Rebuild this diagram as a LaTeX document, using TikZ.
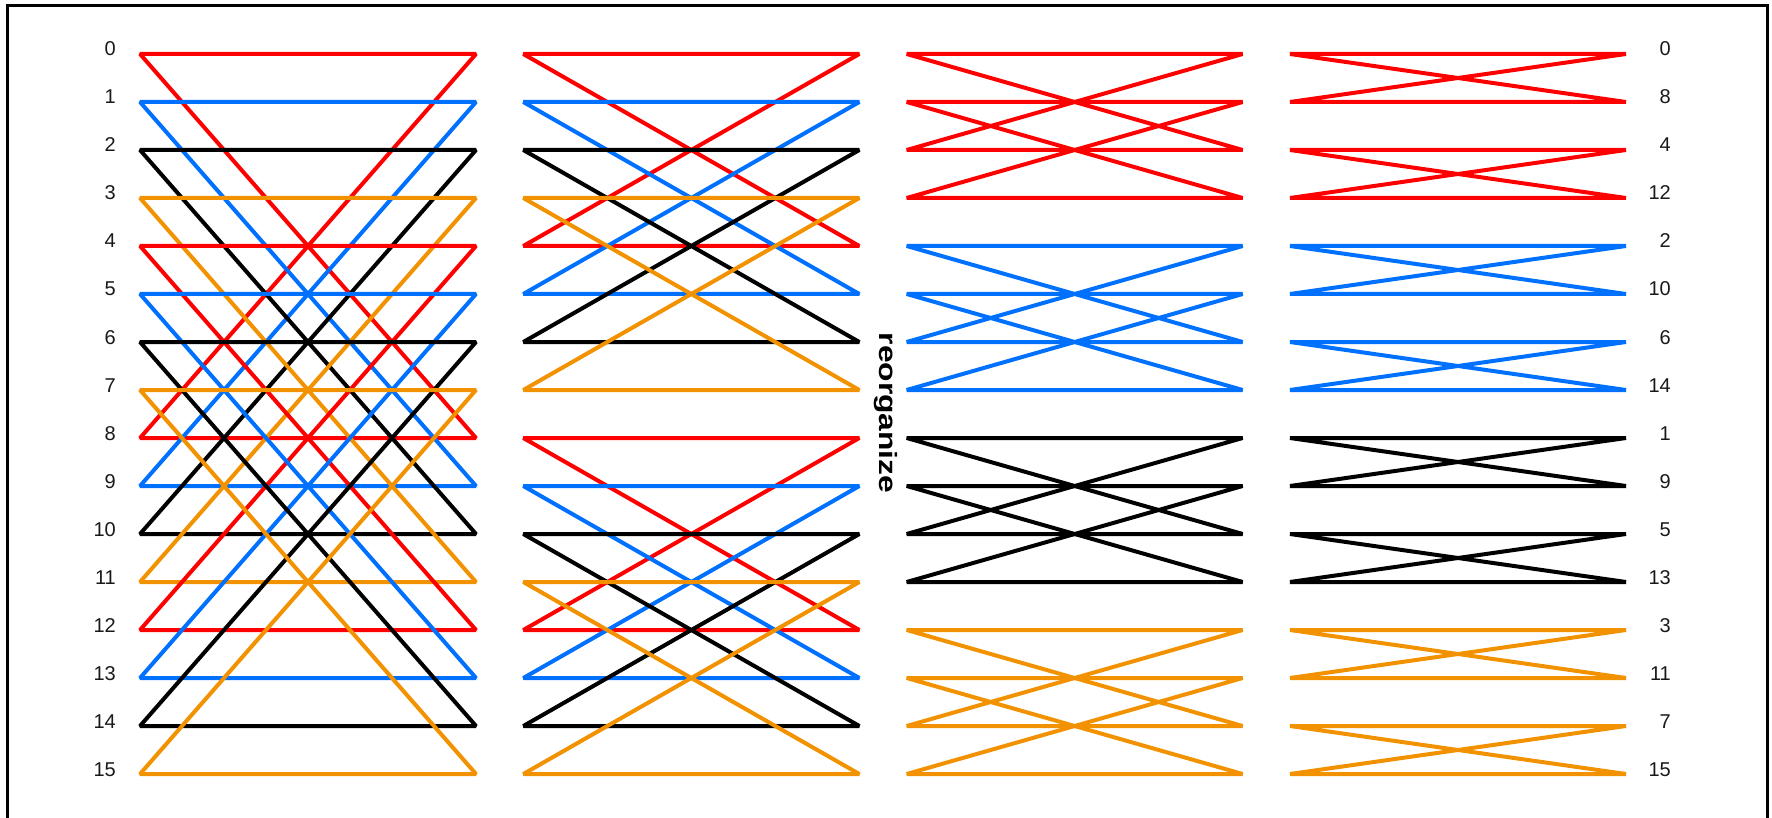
\documentclass[tikz,border=0pt]{standalone}
\usepackage{fontspec}
\usepackage{graphicx}
\setmainfont{Liberation Sans}
\definecolor{col0}{RGB}{255,0,0}
\definecolor{col1}{RGB}{0,112,255}
\definecolor{col2}{RGB}{0,0,0}
\definecolor{col3}{RGB}{243,146,0}
\tikzset{
  wire/.style={line width=4pt, line join=miter, miter limit=1.5},
  lab/.style={inner sep=0pt, font=\fontsize{20}{24}\selectfont, text=black!90},
  frame/.style={line width=3pt, draw=black}
}
\begin{document}
\begin{tikzpicture}[x=1pt, y=-1pt]
\useasboundingbox (0,0) rectangle (1772,818);
\begin{scope}
  \clip (0,0) rectangle (1772,818);
  \draw[frame] (7,840) -- (7,6) -- (1767,6) -- (1767,840);
\end{scope}
% named endpoints
\foreach \c in {0,...,3}{
  \foreach \r in {0,...,15}{
    \pgfmathsetmacro\xl{140+383.33*\c}
    \pgfmathsetmacro\xr{\xl+336}
    \pgfmathsetmacro\yy{54+48*\r}
    \coordinate (L\c-\r) at (\xl,\yy);
    \coordinate (R\c-\r) at (\xr,\yy);
  }
}
% stage 1: span 8
\foreach \i in {0,...,7}{
  \pgfmathtruncatemacro\j{\i+8}
  \pgfmathtruncatemacro\k{mod(\i,4)}
  \draw[wire, col\k] (L0-\i) -- (R0-\i) -- (L0-\j) -- (R0-\j) -- cycle;
}
% stage 2: span 4
\foreach \i in {0,1,2,3,8,9,10,11}{
  \pgfmathtruncatemacro\j{\i+4}
  \pgfmathtruncatemacro\k{mod(\i,4)}
  \draw[wire, col\k] (L1-\i) -- (R1-\i) -- (L1-\j) -- (R1-\j) -- cycle;
}
% stage 3: span 2
\foreach \i in {0,1,4,5,8,9,12,13}{
  \pgfmathtruncatemacro\j{\i+2}
  \pgfmathtruncatemacro\k{floor(\i/4)}
  \draw[wire, col\k] (L2-\i) -- (R2-\i) -- (L2-\j) -- (R2-\j) -- cycle;
}
% stage 4: span 1
\foreach \i in {0,2,4,6,8,10,12,14}{
  \pgfmathtruncatemacro\j{\i+1}
  \pgfmathtruncatemacro\k{floor(\i/4)}
  \draw[wire, col\k] (L3-\i) -- (R3-\i) -- (L3-\j) -- (R3-\j) -- cycle;
}
% labels
\foreach \r in {0,...,15}{
  \pgfmathsetmacro\yy{54+48*\r+2}
  \node[lab, anchor=base east] (in\r) at (116,\yy) {\r};
}
\foreach \lbl [count=\n from 0] in {0,8,4,12,2,10,6,14,1,9,5,13,3,11,7,15}{
  \pgfmathsetmacro\yy{54+48*\n+2}
  \node[lab, anchor=base east] (out\n) at (1671,\yy) {\lbl};
}
\node[rotate=-90, anchor=base, inner sep=0pt, font=\fontsize{25}{28}\selectfont\bfseries] (reorg) at (879,413) {\scalebox{1.27}[1]{reorganize}};
\end{tikzpicture}
\end{document}
